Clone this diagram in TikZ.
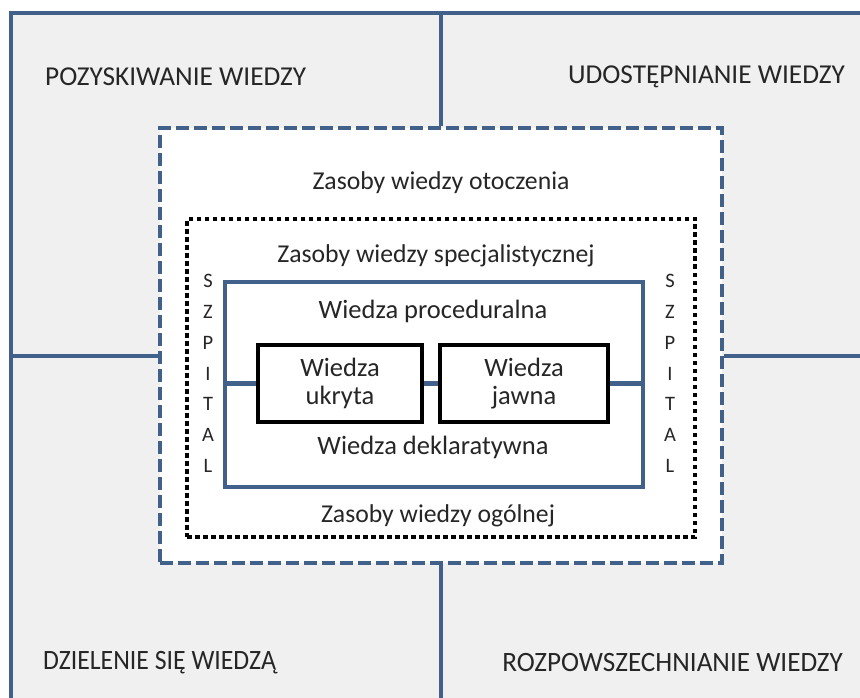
\documentclass[tikz,border=0pt]{standalone}
\usepackage{fontspec}
\setmainfont{Carlito}
\definecolor{frameblue}{HTML}{41608A}
\definecolor{panelgray}{HTML}{F0F0F0}
\begin{document}
\begin{tikzpicture}[x=1pt,y=-1pt,
  bluefr/.style={draw=frameblue,line width=4.5pt},
  dashbox/.style={draw=frameblue,line width=4.5pt,dash pattern=on 13pt off 5pt,fill=white,inner sep=0pt},
  dotbox/.style={draw=black,line width=4.5pt,dash pattern=on 4.5pt off 3.5pt,inner sep=0pt},
  innerbox/.style={draw=frameblue,line width=4.5pt,inner sep=0pt},
  knowbox/.style={draw=black,line width=4.5pt,inner sep=0pt,minimum width=164pt,minimum height=77pt,align=center,font=\fontsize{26.5}{28}\selectfont,text=black!85},
  quadlabel/.style={inner sep=0pt,font=\fontsize{27.3}{30}\selectfont,text=black!85},
  quadlabelb/.style={inner sep=0pt,font=\fontsize{28}{30}\selectfont,text=black!85},
  zlabel/.style={inner sep=0pt,font=\fontsize{25.7}{30}\selectfont,text=black!85},
  wlabel/.style={inner sep=0pt,font=\fontsize{26.5}{30}\selectfont,text=black!85},
  letters/.style={inner sep=0pt,align=center,font=\fontsize{20.5}{30.8}\selectfont,text=black!85}
]
\useasboundingbox (0,0) rectangle (860,698);
\clip (0,0) rectangle (860,698);
% outer frame
\fill[panelgray] (11,13) rectangle (880,720);
\draw[bluefr] (11,720) -- (11,13) -- (880,13);
\coordinate (topmid) at (441,13);
\coordinate (botmid) at (441,720);
\coordinate (leftmid) at (11,356);
\coordinate (rightmid) at (880,356);
% boxes
\node[dashbox,minimum width=562pt,minimum height=435pt] (env) at (441,345.5) {};
\node[dotbox,minimum width=508pt,minimum height=318pt] (spec) at (441,378) {};
\node[innerbox,minimum width=418pt,minimum height=205pt] (inner) at (434,384.5) {};
\node[knowbox] (ukr) at (340,383.5) {Wiedza\\ukryta};
\node[knowbox,minimum width=168pt] (jaw) at (524,383.5) {Wiedza\\jawna};
% dividers
\draw[bluefr] (topmid) -- (env.north);
\draw[bluefr] (env.south) -- (botmid);
\draw[bluefr] (leftmid) -- (leftmid -| env.west);
\draw[bluefr] (rightmid) -- (rightmid -| env.east);
% connectors
\draw[bluefr] (inner.west |- ukr.west) -- (ukr.west);
\draw[bluefr] (ukr.east) -- (jaw.west);
\draw[bluefr] (jaw.east) -- (jaw.east -| inner.east);
% quadrant labels
\node[quadlabel,anchor=west] (q1) at (45,77) {POZYSKIWANIE WIEDZY};
\node[quadlabel,anchor=east] (q2) at (845,77) {UDOSTĘPNIANIE WIEDZY};
\node[quadlabelb,anchor=west] (q3) at (43,663) {\scalebox{0.92}[1]{DZIELENIE SIĘ WIEDZĄ}};
\node[quadlabelb,anchor=east] (q4) at (843,663) {\scalebox{0.97}[1]{ROZPOWSZECHNIANIE WIEDZY}};
% inner labels
\node[zlabel] (zo) at (441,183) {Zasoby wiedzy otoczenia};
\node[zlabel] (zs) at (436,256) {Zasoby wiedzy specjalistycznej};
\node[wlabel] (wp) at (433,311) {Wiedza proceduralna};
\node[wlabel] (wd) at (433,447) {Wiedza deklaratywna};
\node[zlabel] (zg) at (438,516) {Zasoby wiedzy ogólnej};
\node[letters] (sl) at (208,373.5) {S\\Z\\P\\I\\T\\A\\L};
\node[letters] (sr) at (670,373.5) {S\\Z\\P\\I\\T\\A\\L};
\end{tikzpicture}
\end{document}
